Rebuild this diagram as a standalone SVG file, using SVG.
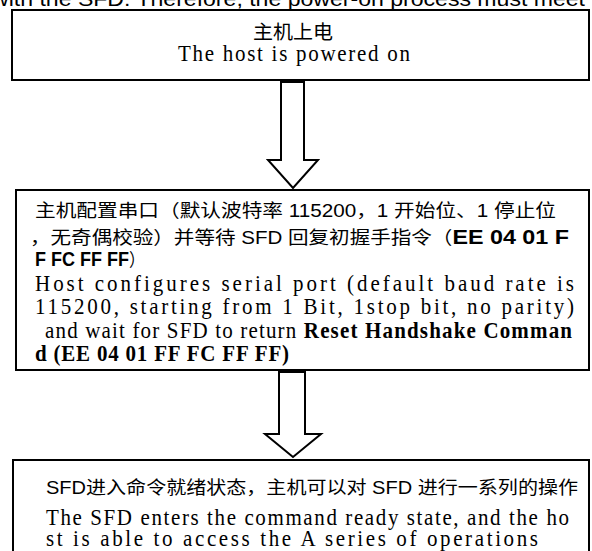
<svg xmlns="http://www.w3.org/2000/svg" width="592" height="551" viewBox="0 0 592 551">
<style>
.box{fill:#fff;stroke:#000;stroke-width:2}
.arr{fill:#fff;stroke:#000;stroke-width:2;stroke-linejoin:miter}
.en{font-family:"Liberation Serif",serif;font-size:21px;fill:#000}
.zh{font-family:"Liberation Sans","Noto Sans CJK SC",sans-serif;font-size:15px;fill:#000}
.b{font-weight:bold}
.bb{font-weight:bold;font-size:17px}
.top{font-family:"Liberation Sans",sans-serif;font-size:20px;fill:#000}
</style>
<text class="top" x="-8" y="6" textLength="593" lengthAdjust="spacingAndGlyphs">with the SFD. Therefore, the power-on process must meet</text>
<g id="n1">
<rect class="box" x="12" y="10" width="577" height="70"/>
<g transform="translate(0,39) scale(1,1.15)"><text class="zh" x="253" y="0" textLength="80" lengthAdjust="spacingAndGlyphs" style="font-size:17px">主机上电</text></g>
<g transform="translate(0,61) scale(1,1.05)"><text class="en" x="178" y="0" textLength="232" lengthAdjust="spacing">The host is powered on</text></g>
</g>
<g id="n2">
<rect class="box" x="16" y="190" width="573" height="180"/>
<g transform="translate(0,217) scale(1,1.2)"><text class="zh" x="35" y="0" textLength="521" lengthAdjust="spacingAndGlyphs">主机配置串口（默认波特率 115200，1 开始位、1 停止位</text></g>
<g transform="translate(0,244) scale(1,1.2)"><text class="zh" x="30" y="0" textLength="539" lengthAdjust="spacingAndGlyphs">，无奇偶校验）并等待 SFD 回复初握手指令（<tspan class="bb">EE 04 01 F</tspan></text></g>
<g transform="translate(0,266) scale(1,1.2)"><text class="zh" x="35" y="0" textLength="110" lengthAdjust="spacingAndGlyphs"><tspan class="bb">F FC FF FF</tspan>）</text></g>
<g transform="translate(0,291) scale(1,1.05)"><text class="en" x="35" y="0" textLength="539" lengthAdjust="spacing">Host configures serial port (default baud rate is</text></g>
<g transform="translate(0,314) scale(1,1.05)"><text class="en" x="35" y="0" textLength="539" lengthAdjust="spacing">115200, starting from 1 Bit, 1stop bit, no parity)</text></g>
<g transform="translate(0,338) scale(1,1.05)"><text class="en" x="45" y="0" textLength="527" lengthAdjust="spacing">and wait for SFD to return <tspan class="b">Reset Handshake Comman</tspan></text></g>
<g transform="translate(0,361) scale(1,1.05)"><text class="en b" x="35" y="0" textLength="254" lengthAdjust="spacing">d (EE 04 01 FF FC FF FF)</text></g>
</g>
<g id="n3">
<rect class="box" x="13" y="460" width="576" height="100"/>
<g transform="translate(0,494) scale(1,1.2)"><text class="zh" x="46" y="0" textLength="532" lengthAdjust="spacingAndGlyphs">SFD进入命令就绪状态，主机可以对 SFD 进行一系列的操作</text></g>
<g transform="translate(0,525) scale(1,1.05)"><text class="en" x="46" y="0" textLength="523" lengthAdjust="spacing">The SFD enters the command ready state, and the ho</text></g>
<g transform="translate(0,546) scale(1,1.05)"><text class="en" x="46" y="0" textLength="492" lengthAdjust="spacing">st is able to access the A series of operations</text></g>
</g>
<g id="connectors">
<polygon class="arr" points="281,82 304,82 304,160 318,160 293,188 268,160 281,160"/>
<polygon class="arr" points="279,372 305,372 305,434 321,434 293,457 265,434 279,434"/>
</g>
</svg>
